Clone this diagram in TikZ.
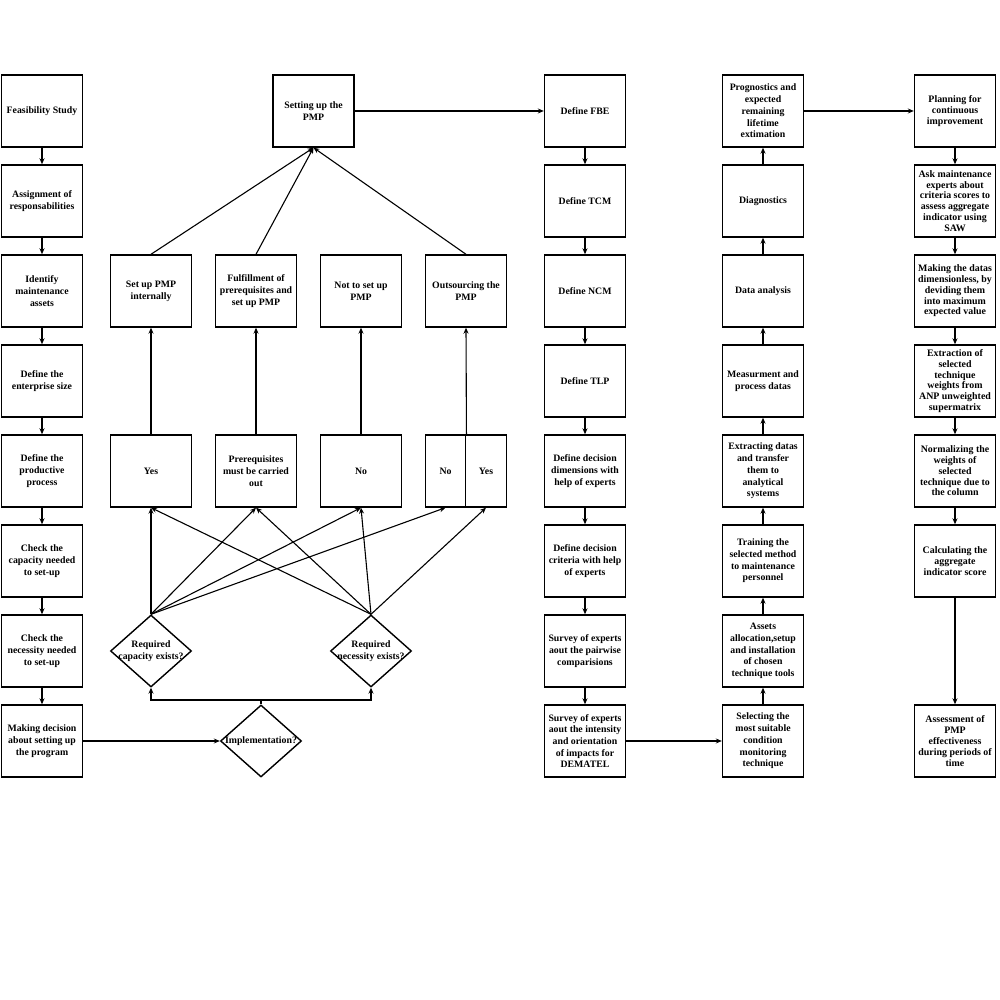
\documentclass[tikz,border=0pt]{standalone}
\usepackage{fontspec}
\setmainfont{Liberation Serif}
\usetikzlibrary{shapes.geometric,arrows.meta}
\tikzset{
  stepbox/.style={draw, line width=1.4pt, rectangle, minimum width=81pt, minimum height=72pt,
    inner sep=1pt, align=center, font=\bfseries\fontsize{9.8}{11.7}\selectfont},
  tightbox/.style={stepbox, font=\bfseries\fontsize{9.9}{10.8}\selectfont},
  halfbox/.style={stepbox, minimum width=40.5pt},
  decision/.style={draw, line width=1.4pt, diamond, minimum width=81pt, minimum height=72pt, inner sep=0pt},
  dtext/.style={align=center, inner sep=0pt, font=\bfseries\fontsize{9.8}{12.5}\selectfont},
  flow/.style={-{Stealth[length=6pt,width=5pt]}, line width=1.1pt},
}
\begin{document}
\begin{tikzpicture}[x=1pt,y=1pt]
        \useasboundingbox (0,0) rectangle (1000,1000);
        % feasibility column
        \node[stepbox] (feas) at (42,889) {Feasibility Study};
        \node[stepbox] (resp) at (42,799) {Assignment of\\responsabilities};
        \node[stepbox] (assets) at (42,709) {Identify\\maintenance\\assets};
        \node[stepbox] (size) at (42,619) {Define the\\enterprise size};
        \node[stepbox] (proc) at (42,529) {Define the\\productive\\process};
        \node[stepbox] (capchk) at (42,439) {Check the\\capacity needed\\to set-up};
        \node[stepbox] (necchk) at (42,349) {Check the\\necessity needed\\to set-up};
        \node[stepbox] (decide) at (42,259) {Making decision\\about setting up\\the program};
        \draw [flow] (feas) -- (resp);
        \draw [flow] (resp) -- (assets);
        \draw [flow] (assets) -- (size);
        \draw [flow] (size) -- (proc);
        \draw [flow] (proc) -- (capchk);
        \draw [flow] (capchk) -- (necchk);
        \draw [flow] (necchk) -- (decide);
        % decisions
        \node[decision, label={[dtext]center:Implementation?}] (impl) at (261,259) {};
        \node[decision, label={[dtext]center:{Required\\capacity exists?}}] (capq) at (151,349) {};
        \node[decision, label={[dtext]center:{Required\\necessity exists?}}] (necq) at (371,349) {};
        \node[stepbox] (yesA) at (151,529) {Yes};
        \node[stepbox] (preqA) at (256,529) {Prerequisites\\must be carried\\out};
        \node[stepbox] (noA) at (361,529) {No};
        \node[halfbox] (noO) at (445.5,529) {No};
        \node[halfbox] (yesO) at (486,529) {Yes};
        \node[stepbox] (inhouse) at (151,709) {Set up PMP\\internally};
        \node[stepbox] (fulfil) at (256,709) {Fulfillment of\\prerequisites and\\set up PMP};
        \node[stepbox] (notset) at (361,709) {Not to set up\\PMP};
        \node[stepbox] (outs) at (466,709) {Outsourcing the\\PMP};
        \node[stepbox] (setup) at (313.5,889) {Setting up the\\PMP};
        \draw [flow] (decide) -- (impl);
        \coordinate (fork) at (261,300);
        \draw [line width=1.1pt] (impl.north) -- (fork);
        \draw [flow] (fork) -| (capq.south);
        \draw [flow] (fork) -| (necq.south);
        \draw [flow] (capq.north) -- (yesA.south);
        \draw [flow] (capq.north) -- (preqA.south);
        \draw [flow] (capq.north) -- (noA.south);
        \draw [flow] (capq.north) -- (noO.south);
        \draw [flow] (necq.north) -- (yesA.south);
        \draw [flow] (necq.north) -- (preqA.south);
        \draw [flow] (necq.north) -- (noA.south);
        \draw [flow] (necq.north) -- (yesO.south);
        \draw [flow] (yesA) -- (inhouse);
        \draw [flow] (preqA) -- (fulfil);
        \draw [flow] (noA) -- (notset);
        \draw [flow] (noO.north east) -- (outs.south);
        \draw [flow] (inhouse.north) -- (setup.south);
        \draw [flow] (fulfil.north) -- (setup.south);
        \draw [flow] (outs.north) -- (setup.south);
        % definition column
        \node[stepbox] (fbe) at (585,889) {Define FBE};
        \node[stepbox] (tcm) at (585,799) {Define TCM};
        \node[stepbox] (ncm) at (585,709) {Define NCM};
        \node[stepbox] (tlp) at (585,619) {Define TLP};
        \node[stepbox] (dims) at (585,529) {Define decision\\dimensions with\\help of experts};
        \node[stepbox] (crit) at (585,439) {Define decision\\criteria with help\\of experts};
        \node[stepbox] (pair) at (585,349) {Survey of experts\\aout the pairwise\\comparisions};
        \node[stepbox] (dematel) at (585,259) {Survey of experts\\aout the intensity\\and orientation\\of impacts for\\DEMATEL};
        \draw [flow] (setup) -- (fbe);
        \draw [flow] (fbe) -- (tcm);
        \draw [flow] (tcm) -- (ncm);
        \draw [flow] (ncm) -- (tlp);
        \draw [flow] (tlp) -- (dims);
        \draw [flow] (dims) -- (crit);
        \draw [flow] (crit) -- (pair);
        \draw [flow] (pair) -- (dematel);
        % monitoring column
        \node[stepbox] (select) at (763,259) {Selecting the\\most suitable\\condition\\monitoring\\technique};
        \node[stepbox] (alloc) at (763,349) {Assets\\allocation,setup\\and installation\\of chosen\\technique tools};
        \node[stepbox] (train) at (763,439) {Training the\\selected method\\to maintenance\\personnel};
        \node[stepbox] (extract) at (763,529) {Extracting datas\\and transfer\\them to\\analytical\\systems};
        \node[stepbox] (measure) at (763,619) {Measurment and\\process datas};
        \node[stepbox] (analysis) at (763,709) {Data analysis};
        \node[stepbox] (diag) at (763,799) {Diagnostics};
        \node[stepbox] (prog) at (763,889) {Prognostics and\\expected\\remaining\\lifetime\\extimation};
        \draw [flow] (dematel) -- (select);
        \draw [flow] (select) -- (alloc);
        \draw [flow] (alloc) -- (train);
        \draw [flow] (train) -- (extract);
        \draw [flow] (extract) -- (measure);
        \draw [flow] (measure) -- (analysis);
        \draw [flow] (analysis) -- (diag);
        \draw [flow] (diag) -- (prog);
        % improvement column
        \node[tightbox] (plan) at (955,889) {Planning for\\continuous\\improvement};
        \node[tightbox] (saw) at (955,799) {Ask maintenance\\experts about\\criteria scores to\\assess aggregate\\indicator using\\SAW};
        \node[tightbox] (dimless) at (955,709) {Making the datas\\dimensionless, by\\deviding them\\into maximum\\expected value};
        \node[tightbox] (anp) at (955,619) {Extraction of\\selected\\technique\\weights from\\ANP unweighted\\supermatrix};
        \node[tightbox] (norm) at (955,529) {Normalizing the\\weights of\\selected\\technique due to\\the column};
        \node[tightbox] (score) at (955,439) {Calculating the\\aggregate\\indicator score};
        \node[tightbox] (assess) at (955,259) {Assessment of\\PMP\\effectiveness\\during periods of\\time};
        \draw [flow] (prog) -- (plan);
        \draw [flow] (plan) -- (saw);
        \draw [flow] (saw) -- (dimless);
        \draw [flow] (dimless) -- (anp);
        \draw [flow] (anp) -- (norm);
        \draw [flow] (norm) -- (score);
        \draw [flow] (score) -- (assess);
\end{tikzpicture}
\end{document}
